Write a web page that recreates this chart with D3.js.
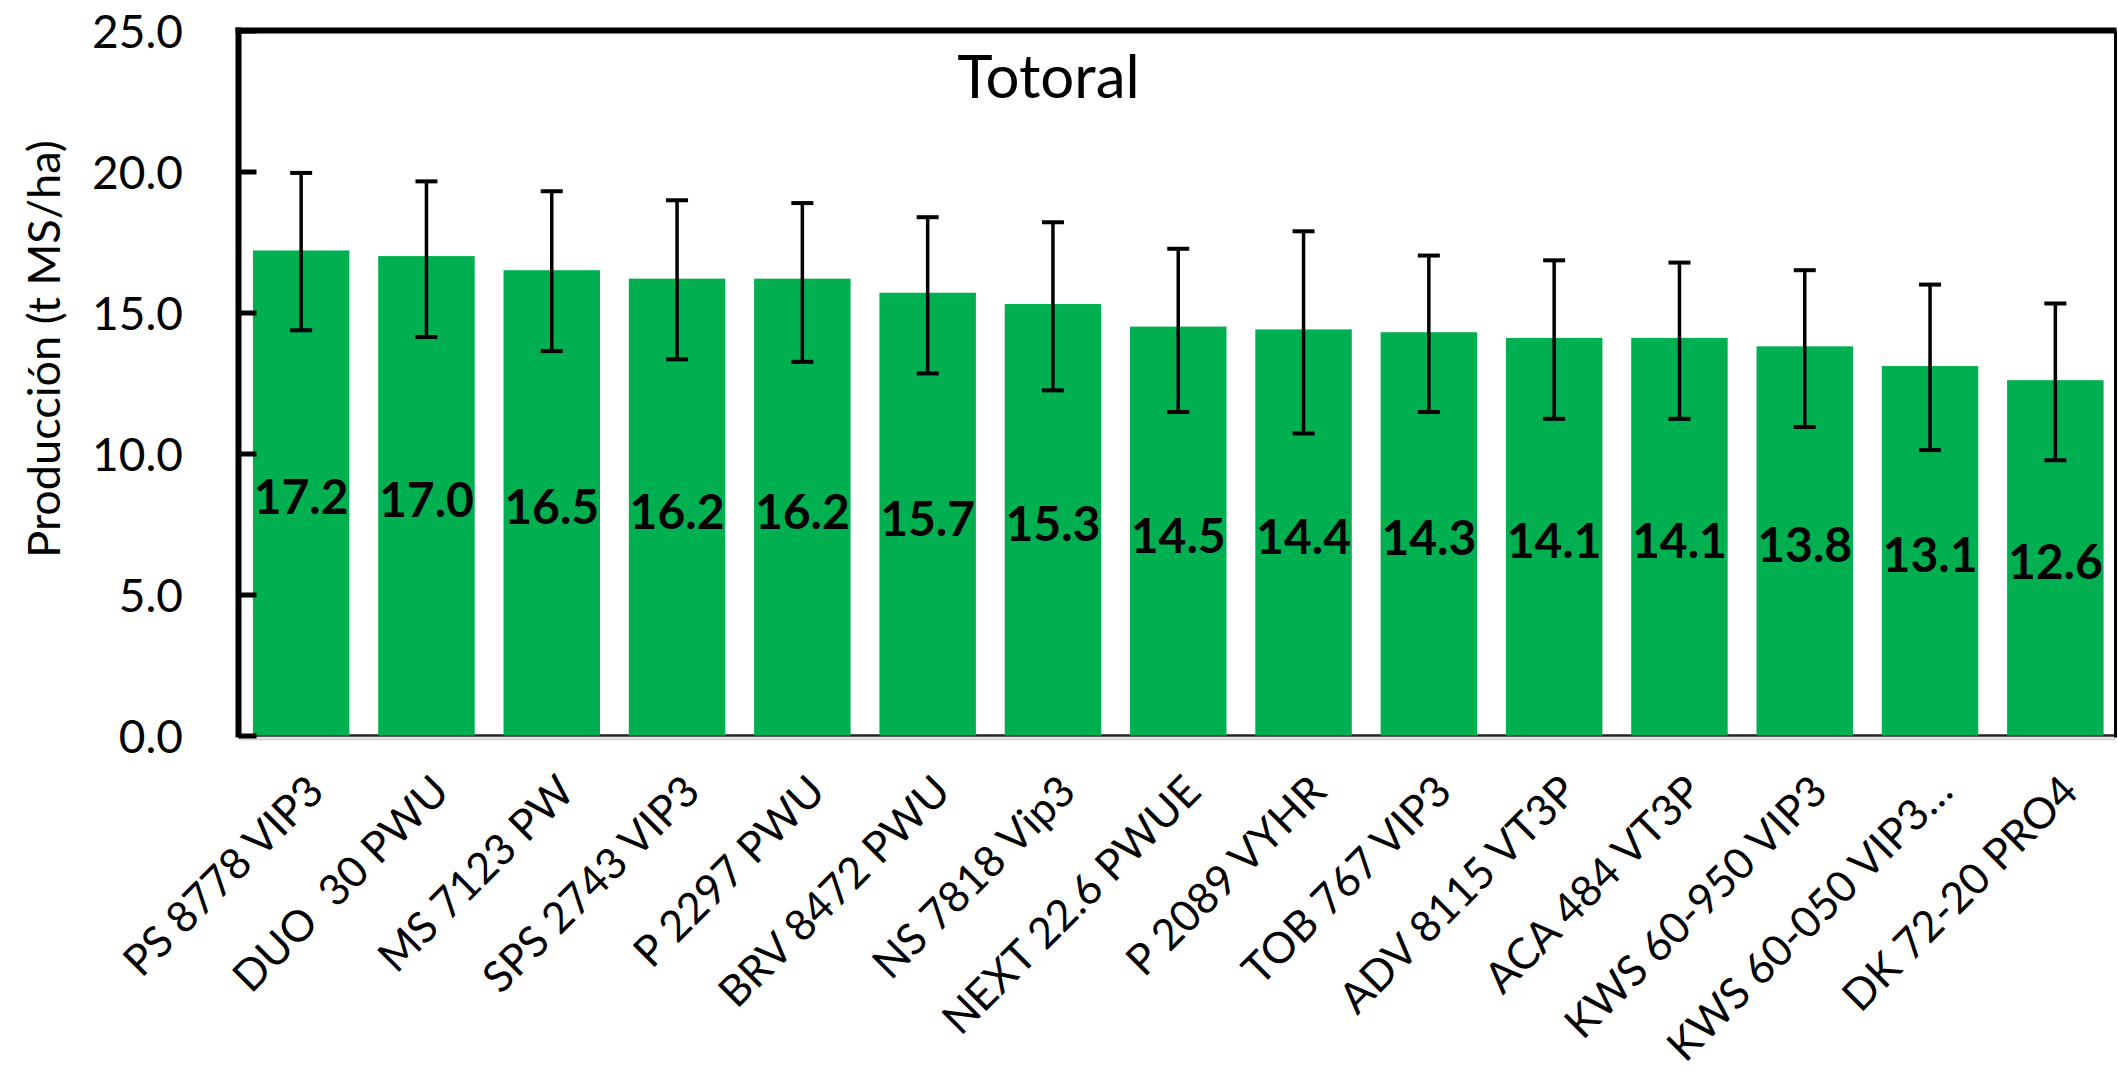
<!DOCTYPE html>
<html>
<head>
<meta charset="utf-8">
<script src="https://cdn.jsdelivr.net/npm/d3@7"></script>
<style>
  html, body { margin: 0; padding: 0; background: #fff; }
  svg { display: block; }
  text { font-family: Lato, "Open Sans", sans-serif; fill: #000; }
</style>
</head>
<body>
<svg id="chart" width="2118" height="1084"></svg>
<script>
const categories = ["PS 8778 VIP3", "DUO  30 PWU", "MS 7123 PW", "SPS 2743 VIP3", "P 2297 PWU",
  "BRV 8472 PWU", "NS 7818 Vip3", "NEXT 22.6 PWUE", "P 2089 VYHR", "TOB 767 VIP3",
  "ADV 8115 VT3P", "ACA 484 VT3P", "KWS 60-950 VIP3", "KWS 60-050 VIP3…", "DK 72-20 PRO4"];
const values = [17.2, 17.0, 16.5, 16.2, 16.2, 15.7, 15.3, 14.5, 14.4, 14.3, 14.1, 14.1, 13.8, 13.1, 12.6];
const errHigh = [19.95, 19.65, 19.3, 18.98, 18.88, 18.38, 18.2, 17.26, 17.88, 17.02, 16.85, 16.77, 16.5, 15.99, 15.32];
const errLow = [14.37, 14.13, 13.63, 13.34, 13.25, 12.84, 12.24, 11.47, 10.71, 11.47, 11.23, 11.23, 10.94, 10.12, 9.76];
const yTicks = [0, 5, 10, 15, 20, 25];
const chartTitle = "Totoral";
const yTitle = "Producción (t MS/ha)";

const svg = d3.select("#chart");
const pLeft = 238.5, pRight = 2118, pTop = 30.5, pBottom = 735.5;

const x = d3.scaleBand().domain(categories).range([pLeft, pRight]).paddingInner(0.23).paddingOuter(0.115);
const y = d3.scaleLinear().domain([0, 25]).range([pBottom, pTop]);

// bottom axis line + shadow (behind bars)
svg.append("line").attr("x1", pLeft).attr("x2", 2115).attr("y1", pBottom + 3.5).attr("y2", pBottom + 3.5)
  .attr("stroke", "#d9d9d9").attr("stroke-width", 3);
svg.append("line").attr("x1", pLeft).attr("x2", 2115).attr("y1", pBottom).attr("y2", pBottom)
  .attr("stroke", "#222").attr("stroke-width", 2.5);

// bars
svg.append("g").selectAll("rect").data(values).join("rect")
  .attr("x", (d, i) => x(categories[i]))
  .attr("width", x.bandwidth())
  .attr("y", d => y(d))
  .attr("height", d => y(0) - y(d))
  .attr("fill", "#00B050");

// error bars
const eg = svg.append("g").attr("stroke", "#000").attr("stroke-width", 4);
categories.forEach((c, i) => {
  const cx = x(c) + x.bandwidth() / 2;
  eg.append("line").attr("x1", cx).attr("x2", cx).attr("y1", y(errHigh[i])).attr("y2", y(errLow[i])).attr("stroke-width", 3.5);
  eg.append("line").attr("x1", cx - 11).attr("x2", cx + 11).attr("y1", y(errHigh[i])).attr("y2", y(errHigh[i]));
  eg.append("line").attr("x1", cx - 11).attr("x2", cx + 11).attr("y1", y(errLow[i])).attr("y2", y(errLow[i]));
});

// value labels
svg.append("g").selectAll("text").data(values).join("text")
  .attr("x", (d, i) => x(categories[i]) + x.bandwidth() / 2)
  .attr("y", d => (y(d) + y(0)) / 2 + 3)
  .attr("text-anchor", "middle")
  .attr("dominant-baseline", "central")
  .attr("font-weight", "bold")
  .attr("font-size", 48)
  .text(d => d.toFixed(1));

// plot frame: left (thick), top (thick), right (thin)
svg.append("line").attr("x1", pLeft).attr("x2", pLeft).attr("y1", pTop - 3).attr("y2", pBottom + 2)
  .attr("stroke", "#000").attr("stroke-width", 6);
svg.append("line").attr("x1", pLeft - 3).attr("x2", 2116.5).attr("y1", pTop).attr("y2", pTop)
  .attr("stroke", "#000").attr("stroke-width", 6);
svg.append("line").attr("x1", 2115.5).attr("x2", 2115.5).attr("y1", pTop).attr("y2", pBottom + 2)
  .attr("stroke", "#000").attr("stroke-width", 3);

// y axis ticks (inward) and labels
const yAxis = d3.axisRight(y).tickValues(yTicks).tickSize(18).tickFormat("");
const ya = svg.append("g").attr("transform", `translate(${pLeft},0)`).call(yAxis);
ya.select(".domain").remove();
ya.selectAll(".tick line").attr("stroke", "#000").attr("stroke-width", 5);

svg.append("g").selectAll("text").data(yTicks).join("text")
  .attr("x", 183)
  .attr("y", d => y(d))
  .attr("text-anchor", "end")
  .attr("dominant-baseline", "central")
  .attr("font-size", 46)
  .text(d => d.toFixed(1));

// x labels rotated
svg.append("g").selectAll("text").data(categories).join("text")
  .attr("transform", d => `translate(${x(d) + x.bandwidth() / 2 + 25},794) rotate(-45)`)
  .attr("text-anchor", "end")
  .attr("font-size", 43)
  .attr("xml:space", "preserve")
  .style("white-space", "pre")
  .text(d => d);

// titles
svg.append("text").attr("x", 1048.5).attr("y", 98).attr("text-anchor", "middle")
  .attr("font-size", 60).text(chartTitle);
svg.append("text").attr("transform", "translate(60,349) rotate(-90)").attr("text-anchor", "middle")
  .attr("font-size", 45).text(yTitle);
</script>
</body>
</html>
